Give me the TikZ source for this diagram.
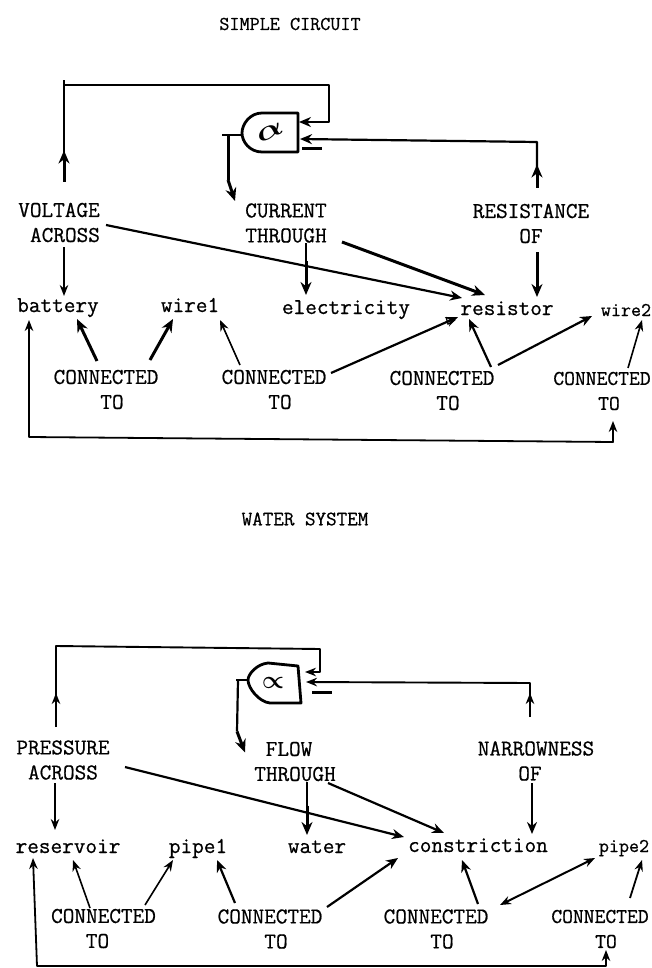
\documentclass[tikz,border=0pt]{standalone}
\usepackage{graphicx}
\usepackage{fontspec}
\setmonofont{Latin Modern Mono}[FakeBold=0.7]
\usetikzlibrary{arrows.meta,calc}
\tikzset{
 base/.style={inner sep=0pt,outer sep=0pt},
 title/.style={base,font=\fontsize{19.6}{22}\selectfont\ttfamily},
 concept/.style={base,align=center,font=\fontsize{22.6}{25}\selectfont\ttfamily},
 edgeconcept/.style={concept,font=\fontsize{21}{25}\selectfont\ttfamily},
 obj/.style={base,text height=14pt,text depth=0pt,font=\fontsize{22.6}{25}\selectfont\ttfamily},
 edgeobj/.style={obj,font=\fontsize{19.5}{25}\selectfont\ttfamily},
 sym/.style={base,font=\fontsize{30}{30}\selectfont\boldmath},
 thin arr/.style={line width=1.6pt,-{Stealth[length=11pt,width=8.5pt]}},
 med arr/.style={line width=2.2pt,-{Stealth[length=12pt,width=10pt]}},
 thick arr/.style={line width=3pt,-{Stealth[length=13pt,width=11pt]}},
 wire/.style={line width=2.2pt,line join=round},
 heavy/.style={line width=3pt,line join=round},
 gate/.style={line width=2.8pt,line join=round},
 both arr/.style={line width=1.8pt,{Stealth[length=11pt,width=8.5pt]}-{Stealth[length=11pt,width=8.5pt]},line join=round},
}
\begin{document}
\begin{tikzpicture}[x=1pt,y=-1pt]
\useasboundingbox (0,0) rectangle (651,968);
\fill[white] (0,0) rectangle (651,968);
% ---------- SIMPLE CIRCUIT
\node[title] (t1) at (290,24) {SIMPLE CIRCUIT};
\node[sym,rotate=25] (g1) at (270,132) {\scalebox{1.45}[1.1]{$\alpha$}};
\node[concept] (v1) at (59,222.5) {VOLTAGE\\\hspace*{12pt}ACROSS};
\node[concept] (i1) at (286,223) {CURRENT\\THROUGH};
\node[concept] (r1) at (531,223.5) {RESISTANCE\\OF};
\node[obj] (bat) at (58,305) {battery};
\node[obj] (w1) at (190,305) {wire1};
\node[obj] (el) at (346,307) {electricity};
\node[obj] (res) at (507,308) {resistor};
\node[edgeobj] (w2) at (626,309) {wire2};
\node[concept] (c1) at (106,389.5) {CONNECTED\\\hspace*{12pt}TO};
\node[concept] (c2) at (274,389.5) {CONNECTED\\\hspace*{12pt}TO};
\node[concept] (c3) at (442,390.5) {CONNECTED\\\hspace*{12pt}TO};
\node[edgeconcept] (c4) at (602,391) {CONNECTED\\\hspace*{14pt}TO};
\draw[gate,shift={(g1)}] (28,-19) -- (-8,-19) .. controls (-20,-19) and (-28,-8) .. (-28,1) .. controls (-28,10) and (-20,20) .. (-8,20) -- (28,20) -- cycle;
% feedback wires
\draw[thick arr] ($(v1)+(5,-40.5)$) -- ($(v1)+(5,-72)$);
\draw[wire] ($(v1)+(5,-60)$) -- ($(v1)+(5,-142.5)$);
\draw[med arr,line join=round] ($(v1)+(5,-137.5)$) -- ($(g1)+(59,-47)$) -- ($(g1)+(59,-10)$) -- ($(g1)+(29,-10)$);
\draw[thick arr] ($(r1)+(6,-35.5)$) -- ($(r1)+(6,-59)$);
\draw[med arr,line join=round] ($(r1)+(6,-50)$) -- ($(r1)+(6,-81.5)$) -- ($(g1)+(30,7)$);
\draw[wire] ($(g1)+(-28,3)$) -- ($(g1)+(-48,3)$);
\draw[heavy] ($(g1)+(-42,3)$) -- ($(i1)+(-58,-43)$);
\draw[thick arr] ($(i1)+(-58,-43)$) -- ($(i1)+(-51,-22)$);
\draw[heavy] ($(g1)+(32,17)$) -- ($(g1)+(52,17)$);
% concept to object
\draw[thin arr] ($(v1)+(5,24.5)$) -- ($(bat)+(6,-9)$);
\draw[med arr] ($(v1)+(47,2.5)$) -- ($(res)+(-45,-10)$);
\draw[wire] ($(i1)+(20,20)$) -- ($(i1)+(20,44)$);
\draw[thick arr] ($(i1)+(20,38)$) -- ($(el)+(-40,-12)$);
\draw[thick arr] ($(i1)+(56,19)$) -- ($(res)+(-22,-13)$);
\draw[thick arr] ($(r1)+(6,28.5)$) -- ($(res)+(30,-11)$);
% connected to
\draw[thick arr] ($(c1)+(-9,-28.5)$) -- ($(bat)+(19,14)$);
\draw[thick arr] ($(c1)+(44,-29.5)$) -- ($(w1)+(-17,14)$);
\draw[thin arr] ($(c2)+(-34,-24.5)$) -- ($(w1)+(30,15)$);
\draw[med arr] ($(c2)+(57,-16.5)$) -- ($(res)+(-49,9)$);
\draw[line width=1.3pt] ($(res)+(-61,9)$) -- ($(res)+(-59,16)$) -- ($(res)+(-52,12)$);
\draw[med arr] ($(c3)+(49,-23.5)$) -- ($(res)+(-38,11)$);
\draw[med arr] ($(c3)+(56,-25.5)$) -- ($(w2)+(-34,7)$);
\draw[thin arr] ($(c4)+(26,-23)$) -- ($(w2)+(16,11)$);
\draw[both arr] ($(c4)+(11,30)$) -- ($(c4)+(11,51)$) -- ($(bat)+(-29,132)$) -- ($(bat)+(-29,15)$);
% ---------- WATER SYSTEM
\node[title,font=\fontsize{20.5}{22}\selectfont\ttfamily] (t2) at (305,519) {WATER SYSTEM};
\node[sym] (g2) at (273,683) {$\propto$};
\node[concept] (pa) at (63,760) {PRESSURE\\ACROSS};
\node[concept] (fl) at (295,761.5) {FLOW\hspace*{12pt}\\THROUGH};
\node[concept] (n2) at (536,761) {NARROWNESS\\OF\hspace*{12pt}};
\node[obj] (rv) at (68,846) {reservoir};
\node[obj] (p1) at (198,846) {pipe1};
\node[obj] (wa) at (317,846) {water};
\node[obj] (co) at (478,845) {constriction};
\node[edgeobj] (pb) at (624,845) {pipe2};
\node[concept] (c5) at (103.5,928.5) {CONNECTED\\TO\hspace*{12pt}};
\node[concept] (c6) at (270,929) {CONNECTED\\\hspace*{12pt}TO};
\node[concept] (c7) at (436,929) {CONNECTED\\\hspace*{12pt}TO};
\node[edgeconcept] (c8) at (600,929) {CONNECTED\\\hspace*{12pt}TO};
\draw[gate,shift={(g2)}] (25,-17) -- (-5,-20) .. controls (-16,-19) and (-25,-9) .. (-25,-3) .. controls (-25,5) and (-14,19) .. (-3,20) -- (28,20) -- cycle;
% feedback wires
\draw[thin arr,line width=2pt] ($(pa)+(-7,-33)$) -- ($(pa)+(-7,-67)$);
\draw[thin arr,line join=round,line width=1.9pt] ($(pa)+(-7,-55)$) -- ($(pa)+(-7,-114)$) -- ($(g2)+(47,-34)$) -- ($(g2)+(47,-11)$) -- ($(g2)+(32,-11)$);
\draw[thin arr,line width=2pt] ($(n2)+(-6,-44)$) -- ($(n2)+(-6,-68)$);
\draw[thin arr,line join=round,line width=1.9pt] ($(n2)+(-6,-60)$) -- ($(n2)+(-6,-78)$) -- ($(g2)+(33,-1)$);
\draw[wire] ($(g2)+(-25,-3)$) -- ($(g2)+(-37,-3)$);
\draw[wire] ($(g2)+(-35,-3)$) -- ($(fl)+(-58,-30)$);
\draw[thick arr] ($(fl)+(-58,-30)$) -- ($(fl)+(-50,-9)$);
\draw[heavy] ($(g2)+(39,9)$) -- ($(g2)+(59,9)$);
% concept to object
\draw[thin arr] ($(pa)+(-8,23)$) -- ($(rv)+(-13,-16)$);
\draw[med arr] ($(pa)+(62,7)$) -- ($(co)+(-74,-8)$);
\draw[wire] ($(fl)+(12,20.5)$) -- ($(fl)+(12,50)$);
\draw[thick arr] ($(fl)+(12,44)$) -- ($(wa)+(-10,-11)$);
\draw[med arr] ($(fl)+(33,21.5)$) -- ($(co)+(-34,-12)$);
\draw[med arr] ($(n2)+(-4,22)$) -- ($(co)+(54,-11)$);
% connected to
\draw[thin arr] ($(c5)+(-13.5,-20.5)$) -- ($(rv)+(5,14)$);
\draw[thin arr] ($(c5)+(41.5,-23.5)$) -- ($(p1)+(-25,14)$);
\draw[med arr] ($(c6)+(-35,-26)$) -- ($(p1)+(19,14)$);
\draw[med arr] ($(c6)+(57,-22)$) -- ($(co)+(-80,13)$);
\draw[med arr] ($(c7)+(42,-25)$) -- ($(co)+(-16,15)$);
\draw[both arr,line width=2pt] ($(c7)+(64,-24)$) -- ($(pb)+(-29,13)$);
\draw[thin arr,line width=1.8pt] ($(c8)+(30,-31)$) -- ($(pb)+(18,15)$);
\draw[both arr] ($(c8)+(6,21)$) -- ($(c8)+(6,37)$) -- ($(rv)+(-31,120)$) -- ($(rv)+(-35,12)$);
\end{tikzpicture}
\end{document}
